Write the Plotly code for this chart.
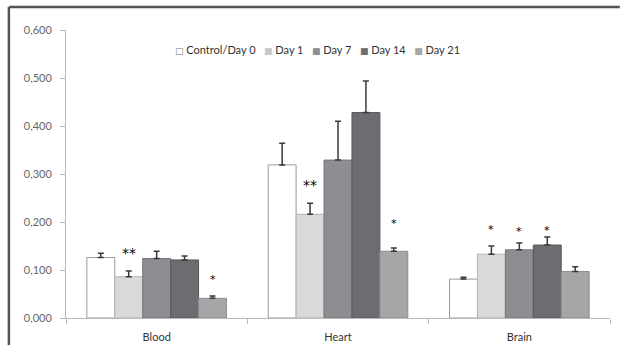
import plotly.graph_objects as go

categories = ["Blood", "Heart", "Brain"]
series_names = ["Control/Day 0", "Day 1", "Day 7", "Day 14", "Day 21"]
values = {
    "Control/Day 0": [0.126, 0.319, 0.081],
    "Day 1": [0.086, 0.216, 0.133],
    "Day 7": [0.124, 0.329, 0.142],
    "Day 14": [0.121, 0.428, 0.152],
    "Day 21": [0.041, 0.139, 0.097],
}
errors = {
    "Control/Day 0": [0.009, 0.045, 0.004],
    "Day 1": [0.012, 0.023, 0.017],
    "Day 7": [0.015, 0.081, 0.014],
    "Day 14": [0.008, 0.066, 0.017],
    "Day 21": [0.005, 0.007, 0.010],
}
fills = ["#ffffff", "#d9d9d9", "#8e8e92", "#6c6c71", "#a6a6a9"]
outlines = ["#9a9a9a", "#b5b5b5", "#76767a", "#58585c", "#8c8c8f"]
legend_glyphs = ["□", "■", "■", "■", "■"]
legend_glyph_colors = ["#777777", "#c8c8c8", "#8e8e92", "#6c6c71", "#a6a6a9"]
# significance marks: (category index, series index, text, y level)
stars = [
    (0, 1, "**", 0.135),
    (0, 4, "*", 0.081),
    (1, 1, "**", 0.278),
    (1, 4, "*", 0.196),
    (2, 1, "*", 0.185),
    (2, 2, "*", 0.181),
    (2, 3, "*", 0.183),
]
yticks = [0.0, 0.1, 0.2, 0.3, 0.4, 0.5, 0.6]

FONT = "Lato"
bargap = 0.23
n = len(series_names)

fig = go.Figure()
for i, name in enumerate(series_names):
    fig.add_trace(go.Bar(
        name=name, x=categories, y=values[name], showlegend=False,
        marker=dict(color=fills[i], line=dict(color=outlines[i], width=1)),
        error_y=dict(type="data", array=errors[name], symmetric=False,
                     arrayminus=[0] * len(categories),
                     color="#3a3a3a", thickness=1.5, width=3),
    ))

slot = (1 - bargap) / n
for ci, si, txt, yv in stars:
    fig.add_annotation(
        x=ci + (si - (n - 1) / 2) * slot, y=yv, xref="x", yref="y",
        text=txt, showarrow=False, yanchor="middle",
        font=dict(family="DejaVu Sans", size=14 if len(txt) > 1 else 11, color="#000000"),
    )

# compact legend row drawn as text
legend_parts = []
for g, c, name in zip(legend_glyphs, legend_glyph_colors, series_names):
    legend_parts.append(
        f'<span style="font-family:DejaVu Sans;font-size:9px;color:{c}">{g}</span>&nbsp;{name}')
fig.add_annotation(
    xref="paper", yref="paper", x=0.197, y=0.934, xanchor="left", yanchor="middle",
    text="&nbsp;&nbsp;&nbsp;".join(legend_parts), showarrow=False,
    font=dict(family=FONT, size=11, color="#333333"),
)

# outer frame lines (top and left), as in the scanned figure
fig.add_shape(type="line", xref="paper", yref="paper", x0=-0.105, x1=1.018,
              y0=1.08, y1=1.08, line=dict(color="#555555", width=2.5))
fig.add_shape(type="line", xref="paper", yref="paper", x0=-0.105, x1=-0.105,
              y0=1.08, y1=-0.094, line=dict(color="#555555", width=2.5))

fig.update_layout(
    width=620, height=345,
    margin=dict(l=66, r=10, t=30, b=27, autoexpand=False),
    paper_bgcolor="white", plot_bgcolor="white",
    barmode="group", bargap=bargap, bargroupgap=0,
    separators=",.",
    font=dict(family=FONT, size=10, color="#555555"),
    showlegend=False,
    xaxis=dict(type="category", tickson="boundaries", ticks="outside", ticklen=5,
               tickcolor="#bbbbbb", showline=True, linecolor="#bbbbbb", linewidth=1,
               showgrid=False, ticklabelstandoff=9, automargin=False,
               tickfont=dict(family=FONT, size=11, color="#333333")),
    yaxis=dict(range=[0, 0.6], tickvals=yticks, tickformat=".3f", ticks="outside",
               ticklen=5, tickcolor="#bbbbbb", showline=True, linecolor="#bbbbbb",
               linewidth=1, showgrid=False, zeroline=False, ticklabelstandoff=6,
               automargin=False,
               tickfont=dict(family=FONT, size=11, color="#666666")),
)

fig.write_html("out.html", config={"displayModeBar": False})
